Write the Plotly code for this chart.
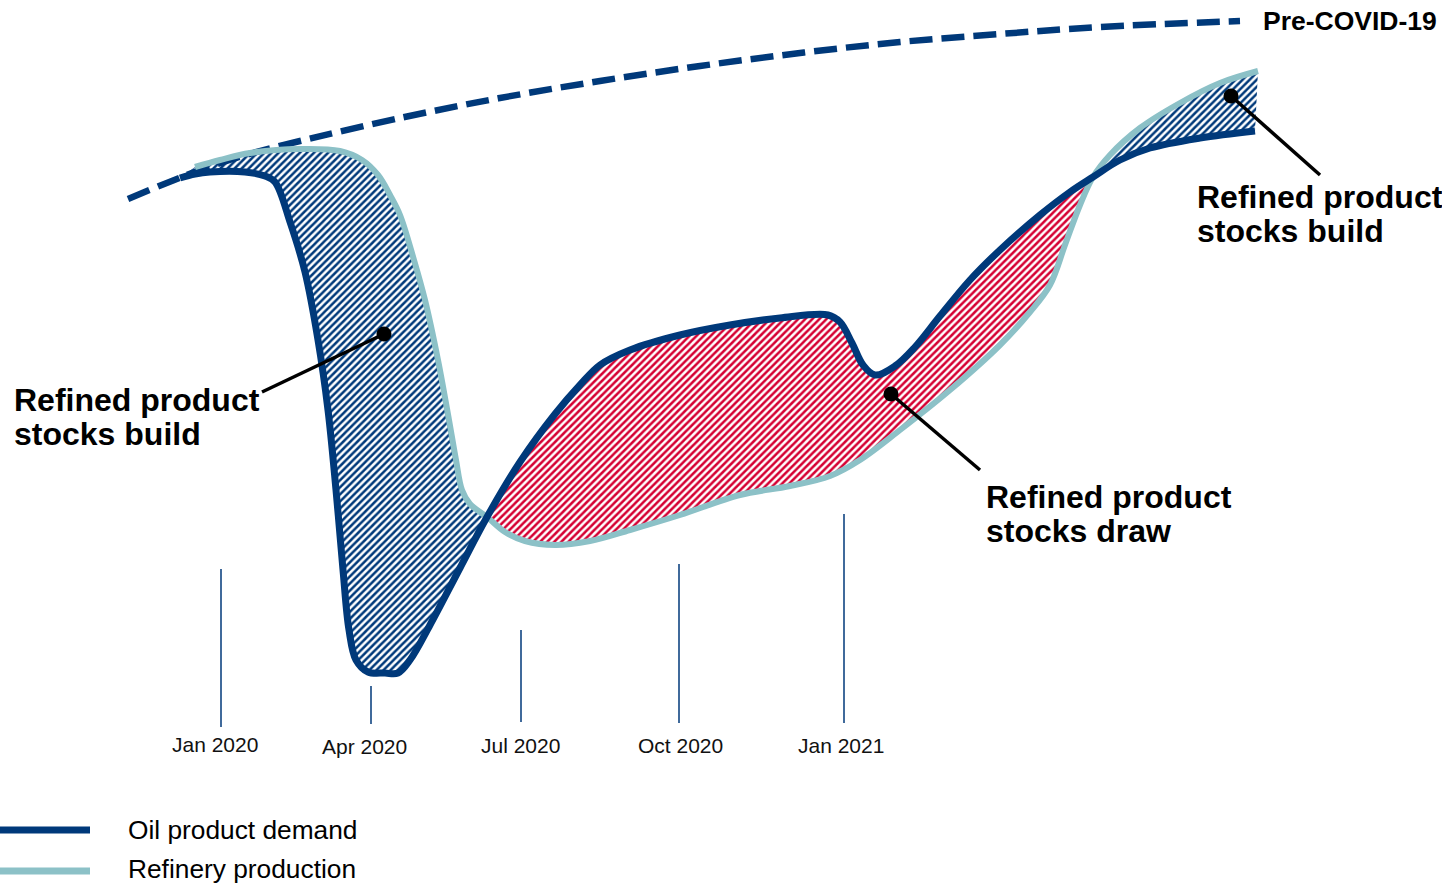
import plotly.graph_objects as go

# Schematic time index (horizontal) and demand index (vertical)
demand_x = [18.0, 19.5, 21.0, 24.5, 26.5, 27.5, 29.0, 30.5, 31.8, 32.8, 33.6, 34.3, 34.9, 35.6,
            36.8, 38.5, 39.8, 41.0, 43.0, 46.0, 48.7, 52.0, 55.5, 58.0, 60.0, 63.0, 68.0, 73.0,
            78.0, 82.8, 84.0, 85.2, 86.3, 87.5, 89.5, 91.5, 94.0, 97.0, 100.0, 104.0, 107.0,
            109.3, 112.0, 115.0, 120.0, 125.5]
demand_y = [70.5, 70.9, 71.1, 71.1, 70.7, 70.1, 66.1, 61.1, 54.3, 47.3, 39.3, 31.3, 25.3, 22.3,
            21.1, 21.0, 21.0, 22.3, 25.8, 31.5, 36.6, 42.1, 46.9, 49.8, 51.8, 53.3, 54.8, 55.8,
            56.5, 56.8, 56.1, 54.0, 51.8, 50.8, 51.7, 53.6, 56.7, 60.3, 63.3, 66.8, 69.1,
            70.6, 72.3, 73.5, 74.5, 75.2]

refinery_x = [19.5, 22.0, 25.0, 30.0, 34.0, 36.2, 37.8, 39.0, 40.0, 41.4, 42.5, 43.8, 44.9,
              45.6, 46.2, 47.0, 48.7, 50.5, 52.5, 55.5, 59.0, 63.0, 68.0, 74.0, 79.0, 83.0,
              86.0, 90.0, 95.0, 100.0, 103.0, 105.0, 106.5, 108.0, 109.3, 111.0, 114.0, 118.0,
              122.0, 125.8]
refinery_y = [71.6, 72.3, 73.0, 73.4, 73.2, 72.3, 70.8, 68.8, 66.8, 62.3, 58.3, 52.3, 46.3,
              42.3, 39.3, 37.9, 36.6, 35.1, 34.2, 33.8, 34.2, 35.3, 36.8, 38.8, 39.7, 40.7,
              42.3, 45.3, 49.3, 53.8, 57.1, 59.8, 63.8, 67.8, 70.6, 72.8, 75.5, 78.0,
              80.0, 81.2]

# Points where demand and refinery production cross
cross_x = [48.7, 109.3]

precovid_x = [12.8, 20.0, 25.3, 30.0, 40.0, 50.0, 60.0, 70.0, 80.0, 90.0, 100.0, 110.0, 124.0]
precovid_y = [68.4, 71.3, 73.0, 74.2, 76.5, 78.5, 80.2, 81.7, 83.0, 84.1, 84.9, 85.6, 86.2]

tick_labels = ["Jan 2020", "Apr 2020", "Jul 2020", "Oct 2020", "Jan 2021"]
tick_x = [22.1, 37.1, 52.1, 67.9, 84.4]
tick_top = [31.4, 19.7, 25.3, 31.9, 36.9]
tick_bottom = [15.6, 15.9, 16.1, 16.0, 16.0]

NAVY = "#00397A"
TEAL = "#8CC1C7"
RED = "#D50032"
FONT = "Liberation Sans, Arial, sans-serif"

fig = go.Figure()


def segment(xs, ys, lo, hi):
    pts = [(x, y) for x, y in zip(xs, ys) if lo <= x <= hi]
    return [p[0] for p in pts], [p[1] for p in pts]


# Hatched areas between the two curves: build where production > demand, draw where demand > production
bounds = [(-1, cross_x[0], NAVY), (cross_x[0], cross_x[1], RED), (cross_x[1], 200, NAVY)]
for lo, hi, col in bounds:
    rx, ry = segment(refinery_x, refinery_y, lo, hi)
    dx, dy = segment(demand_x, demand_y, lo, hi)
    fig.add_trace(go.Scatter(x=rx, y=ry, mode="lines", line=dict(width=0, shape="spline"),
                             hoverinfo="skip", showlegend=False))
    fig.add_trace(go.Scatter(x=dx, y=dy, mode="lines", line=dict(width=0, shape="spline"),
                             fill="tonexty", fillcolor="white",
                             fillpattern=dict(shape="/", fgcolor=col, bgcolor="white",
                                              fgopacity=1, fillmode="replace",
                                              size=5, solidity=0.5),
                             hoverinfo="skip", showlegend=False))

# Month markers
for tx, t0, t1 in zip(tick_x, tick_bottom, tick_top):
    fig.add_trace(go.Scatter(x=[tx, tx], y=[t0, t1], mode="lines",
                             line=dict(color=NAVY, width=1.5), hoverinfo="skip", showlegend=False))

# Pre-COVID-19 trend
fig.add_trace(go.Scatter(x=precovid_x, y=precovid_y, mode="lines",
                         line=dict(color=NAVY, width=6.5, dash="23px,9px", shape="spline"),
                         hoverinfo="skip", showlegend=False))

# Refinery production and demand lines
fig.add_trace(go.Scatter(x=refinery_x, y=refinery_y, mode="lines",
                         line=dict(color=TEAL, width=6, shape="spline"),
                         hoverinfo="skip", showlegend=False))
fig.add_trace(go.Scatter(x=demand_x, y=demand_y, mode="lines",
                         line=dict(color=NAVY, width=7, shape="spline"),
                         hoverinfo="skip", showlegend=False))

annotations = []
for lab, tx, ty in zip(tick_labels, [21.45, 36.45, 52.05, 68.0, 84.05], [13.85, 13.65, 13.75, 13.75, 13.75]):
    annotations.append(dict(x=tx, y=ty, text=lab, showarrow=False, xanchor="center", yanchor="middle",
                            font=dict(family=FONT, size=21, color="#111111")))

callouts = [
    (1.2, [48.3, 44.9], ["Refined product", "stocks build"]),
    (119.5, [68.6, 65.2], ["Refined product", "stocks build"]),
    (98.4, [38.6, 35.2], ["Refined product", "stocks draw"]),
]
for cx, ys, lines in callouts:
    for cy, txt in zip(ys, lines):
        annotations.append(dict(x=cx, y=cy, text="<b>" + txt + "</b>", showarrow=False,
                                xanchor="left", yanchor="middle",
                                font=dict(family=FONT, size=32, color="black")))

annotations.append(dict(x=126.1, y=86.2, text="<b>Pre-COVID-19</b>", showarrow=False,
                        xanchor="left", yanchor="middle",
                        font=dict(family=FONT, size=26.5, color="black")))

# Legend
annotations.append(dict(x=12.6, y=5.3, text="Oil product demand", showarrow=False,
                        xanchor="left", yanchor="middle", font=dict(family=FONT, size=26.3, color="black")))
annotations.append(dict(x=12.6, y=1.4, text="Refinery production", showarrow=False,
                        xanchor="left", yanchor="middle", font=dict(family=FONT, size=26.3, color="black")))

shapes = [
    dict(type="line", x0=-1, x1=9.0, y0=5.3, y1=5.3, line=dict(color=NAVY, width=7)),
    dict(type="line", x0=-1, x1=9.0, y0=1.2, y1=1.2, line=dict(color=TEAL, width=7)),
]
# Leader lines with dots
leaders = [((26.2, 49.1), (38.4, 54.9)), ((98.0, 41.3), (89.1, 48.9)), ((132.0, 70.8), (123.1, 78.7))]
for (x0, y0), (x1, y1) in leaders:
    shapes.append(dict(type="line", x0=x0, y0=y0, x1=x1, y1=y1, line=dict(color="black", width=3.5)))
    shapes.append(dict(type="circle", xref="x", yref="y", x0=x1 - 0.75, x1=x1 + 0.75,
                       y0=y1 - 0.75, y1=y1 + 0.75, fillcolor="black", line=dict(width=0)))

fig.update_layout(
    width=1442, height=883,
    margin=dict(l=0, r=0, t=0, b=0),
    paper_bgcolor="white", plot_bgcolor="white",
    xaxis=dict(range=[0, 144.2], visible=False, fixedrange=True),
    yaxis=dict(range=[0, 88.3], visible=False, fixedrange=True),
    showlegend=False,
    annotations=annotations,
    shapes=shapes,
)

fig.write_html("out.html")
